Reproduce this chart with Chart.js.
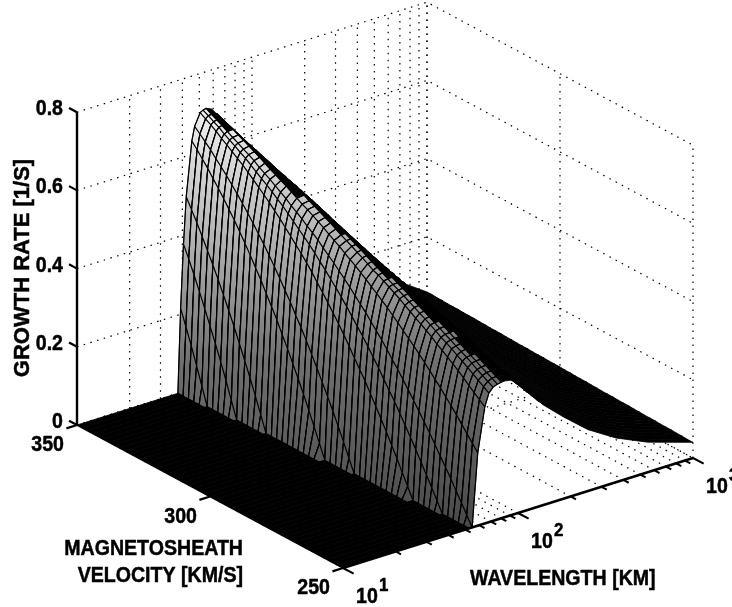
<!DOCTYPE html>
<html lang="en">
<head>
<meta charset="UTF-8">
<title>Growth rate surface</title>
<style>
  html, body { margin: 0; padding: 0; background: #fff; }
  canvas { display: block; }
</style>
<script src="https://cdn.jsdelivr.net/npm/chart.js@4"></script>
</head>
<body>
<canvas id="surface" width="732" height="607"></canvas>
<script>
// tick labels and grid positions
const growthTicks = [0, 0.2, 0.4, 0.6, 0.8];
const velocityTicks = [350, 300, 250];
const wavelengthDecades = [10, 100, 1000];
const wavelengthGrid = [10, 20, 30, 40, 50, 60, 70, 80, 90, 100, 200, 300, 400, 500, 600, 700, 800, 900, 1000];

// mesh rows, back of the plot to the front [km/s]
const velocities = [350, 348, 346, 344, 342, 340, 338, 336, 334, 332, 330, 328, 326, 324, 322, 320, 318,
  316, 314, 312, 310, 308, 306, 304, 302, 300, 298, 296, 294, 292, 290, 288, 286, 284, 282, 280, 278, 276,
  274, 272, 270, 268, 266, 264, 262, 260, 258, 256, 254, 252, 250];

// mesh columns [km]
const wavelengths = [10, 37.7, 39.1, 40.6, 42.1, 45.3, 47, 50.6, 52.5, 54.7, 58.9, 64.6, 68.2, 72.1, 76.2, 80.5,
  85.1, 91.2, 110, 138, 182, 251, 363, 550, 1000];

// growth rate in 1e-3 /s along each wavelength, one value per velocity.
// rows left off the end are zero (the flat floor in front of the ridge)
const growth10 = [];
const growth37_7 = [];
const growth39_1 = [215, 175, 134, 90, 45];
const growth40_6 = [377, 346, 312, 277, 241, 204, 166, 127, 86, 43];
const growth42_1 = [496, 470, 444, 416, 387, 358, 328, 296, 263, 229, 193, 157, 120, 81, 41];
const growth45_3 = [634, 619, 602, 586, 567, 549, 530, 510, 490, 468, 445, 422, 397, 373, 346, 320, 293, 263, 234, 203, 172, 140, 106, 71, 36];
const growth47 = [669, 657, 644, 631, 616, 602, 587, 571, 555, 538, 520, 502, 482, 463, 442, 420, 398, 374, 351, 325, 301, 275, 247, 219, 190, 161, 131, 99, 67, 33];
const growth50_6 = [700, 691, 683, 674, 663, 654, 644, 634, 624, 613, 601, 589, 577, 565, 551, 538, 523, 508, 493, 478, 462, 445, 426, 408, 389, 370, 350, 329, 307, 284, 262, 240, 215, 190, 165, 139, 112, 85, 57, 29];
const growth52_5 = [704, 697, 689, 682, 672, 664, 656, 647, 639, 629, 619, 609, 600, 590, 579, 568, 556, 544, 531, 519, 506, 492, 477, 463, 447, 432, 416, 399, 381, 363, 345, 326, 306, 286, 264, 243, 222, 199, 176, 152, 128, 103, 78, 53, 26];
const growth54_7 = [706, 698, 691, 684, 676, 668, 661, 653, 646, 638, 628, 620, 612, 603, 594, 585, 574, 565, 555, 544, 534, 523, 510, 498, 486, 473, 460, 446, 432, 417, 403, 387, 371, 355, 338, 319, 302, 283, 264, 244, 224, 204, 183, 161, 139, 117, 95, 71, 48, 24];
const growth58_9 = [700, 696, 690, 684, 677, 670, 663, 656, 649, 642, 634, 626, 619, 612, 605, 597, 589, 581, 574, 566, 558, 550, 541, 532, 524, 514, 505, 496, 486, 476, 465, 455, 444, 433, 421, 409, 396, 384, 371, 358, 344, 330, 315, 301, 285, 270, 254, 237, 220, 203, 186];
const growth64_6 = [676, 672, 667, 662, 657, 651, 646, 641, 635, 629, 624, 619, 614, 608, 602, 596, 591, 584, 577, 570, 563, 556, 548, 540, 533, 526, 518, 511, 503, 494, 489, 481, 473, 465, 457, 448, 439, 430, 422, 413, 404, 393, 384, 374, 364, 354, 343, 331, 320, 309, 298];
const growth68_2 = [658, 654, 650, 646, 642, 637, 633, 628, 623, 618, 612, 607, 602, 597, 591, 586, 581, 575, 570, 565, 559, 553, 548, 541, 534, 527, 520, 513, 505, 498, 491, 483, 476, 469, 462, 454, 447, 439, 432, 424, 416, 407, 400, 392, 383, 375, 366, 357, 348, 339, 330];
const growth72_1 = [642, 638, 634, 631, 627, 623, 619, 614, 610, 605, 600, 596, 591, 587, 582, 577, 572, 567, 561, 556, 550, 545, 539, 534, 528, 522, 516, 510, 505, 498, 491, 484, 477, 470, 463, 455, 448, 441, 434, 426, 419, 411, 404, 396, 389, 382, 374, 365, 357, 349, 342];
const growth76_2 = [621, 617, 614, 610, 606, 602, 598, 594, 590, 586, 583, 579, 575, 571, 567, 563, 558, 553, 548, 542, 537, 532, 527, 522, 517, 512, 507, 502, 497, 492, 487, 481, 475, 468, 462, 455, 448, 441, 434, 427, 420, 412, 405, 398, 391, 383, 376, 368, 361, 354, 346];
const growth80_5 = [597, 594, 591, 589, 586, 583, 580, 577, 573, 570, 567, 563, 559, 556, 552, 548, 543, 538, 532, 527, 522, 517, 512, 507, 502, 497, 492, 487, 482, 477, 472, 468, 464, 459, 455, 450, 444, 438, 432, 426, 420, 413, 405, 398, 391, 384, 377, 369, 362, 355, 348];
const growth85_1 = [572, 569, 566, 562, 559, 556, 553, 550, 548, 545, 542, 540, 537, 535, 532, 530, 526, 522, 518, 514, 510, 505, 500, 495, 489, 484, 479, 474, 469, 464, 459, 454, 449, 444, 439, 434, 429, 424, 419, 414, 409, 403, 397, 392, 386, 381, 375, 368, 361, 354, 348];
const growth91_2 = [540, 538, 536, 534, 531, 529, 527, 525, 523, 522, 520, 517, 514, 512, 509, 506, 502, 498, 495, 491, 487, 483, 480, 476, 473, 469, 465, 461, 457, 453, 449, 445, 441, 438, 434, 430, 425, 421, 416, 412, 407, 401, 395, 390, 384, 378, 372, 365, 358, 352, 345];
const growth110 = [484, 481, 477, 474, 471, 467, 464, 460, 457, 454, 450, 447, 444, 440, 437, 434, 430, 427, 424, 420, 417, 414, 410, 407, 403, 400, 397, 393, 390, 386, 383, 379, 376, 372, 369, 365, 362, 358, 355, 351, 348, 344, 341, 337, 334, 330, 327, 323, 320, 316, 313];
const growth138 = [417, 414, 411, 408, 405, 403, 400, 397, 394, 391, 388, 385, 382, 380, 377, 374, 371, 368, 365, 362, 359, 357, 354, 351, 348, 345, 342, 338, 335, 331, 328, 324, 321, 317, 314, 310, 307, 303, 300, 296, 293, 289, 286, 282, 279, 275, 272, 268, 265, 261, 258];
const growth182 = [335, 333, 331, 329, 327, 324, 322, 320, 318, 316, 314, 312, 310, 307, 305, 303, 301, 299, 297, 295, 293, 290, 288, 286, 284, 282, 279, 276, 273, 270, 267, 264, 261, 258, 256, 253, 250, 247, 244, 241, 238, 235, 232, 229, 227, 224, 221, 218, 215, 212, 209];
const growth251 = [261, 259, 257, 255, 253, 251, 249, 248, 246, 244, 242, 240, 238, 236, 234, 232, 230, 228, 226, 225, 223, 221, 219, 217, 215, 213, 211, 209, 206, 204, 202, 200, 197, 195, 193, 191, 188, 186, 184, 182, 180, 177, 175, 173, 171, 168, 166, 164, 162, 159, 157];
const growth363 = [198, 196, 195, 193, 192, 190, 188, 187, 185, 184, 182, 180, 179, 177, 176, 174, 172, 171, 169, 168, 166, 164, 163, 161, 160, 158, 156, 154, 153, 151, 149, 147, 145, 144, 142, 140, 138, 136, 135, 133, 131, 129, 127, 126, 124, 122, 120, 118, 117, 115, 113];
const growth550 = [138, 137, 136, 135, 134, 133, 132, 130, 129, 128, 127, 126, 125, 124, 123, 122, 121, 120, 119, 117, 116, 115, 114, 113, 112, 111, 110, 108, 107, 106, 104, 103, 101, 100, 99, 97, 96, 95, 93, 92, 91, 89, 88, 86, 85, 84, 82, 81, 80, 78, 77];
const growth1000 = [59, 59, 58, 58, 57, 57, 57, 56, 56, 56, 55, 55, 54, 54, 54, 53, 53, 52, 52, 52, 51, 51, 51, 50, 50, 50, 49, 49, 48, 48, 48, 47, 47, 46, 46, 46, 45, 45, 45, 44, 44, 43, 43, 43, 42, 42, 42, 41, 41, 40, 40];

const growthSeries = [growth10, growth37_7, growth39_1, growth40_6, growth42_1, growth45_3, growth47, growth50_6,
  growth52_5, growth54_7, growth58_9, growth64_6, growth68_2, growth72_1, growth76_2, growth80_5, growth85_1,
  growth91_2, growth110, growth138, growth182, growth251, growth363, growth550, growth1000];

// orthographic view of the box, gives x/y on the flat chart scales
function view(lambda, velocity, growth) {
  const across = (350 - velocity) / 100;
  const along = (Math.log10(lambda) - 1) / 2;
  return {
    x: 77 + 266 * across + 350 * along,
    y: 425 + 143 * across - 110 * along - 391 * growth
  };
}

const meshPoint = (col, row) => view(wavelengths[col], velocities[row], (growthSeries[col][row] || 0) / 1000);

function outline(from, to, row) {
  const pts = [];
  for (let c = from; c <= to; c++) pts.push(meshPoint(c, row));
  for (let c = to; c >= from; c--) pts.push(meshPoint(c, row + 1));
  return pts;
}

function wires(from, to, row) {
  const pts = [];
  for (let c = from; c <= to; c++) pts.push(meshPoint(c, row), meshPoint(c, row + 1), meshPoint(c, row));
  for (let c = to; c >= from; c--) pts.push(meshPoint(c, row + 1));
  return pts;
}

// the shading of the steep face gets darker towards the floor
function faceFill(context) {
  const { ctx, scales } = context.chart;
  const top = scales.y ? scales.y.getPixelForValue(110) : NaN;
  if (!isFinite(top)) return '#888';
  const g = ctx.createLinearGradient(0, top, 0, scales.y.getPixelForValue(530));
  g.addColorStop(0, '#f2f2f2');
  g.addColorStop(0.3, '#b4b4b4');
  g.addColorStop(0.6, '#707070');
  g.addColorStop(1, '#484848');
  return g;
}

const solid = (data, width) => ({ data, showLine: true, pointRadius: 0, borderColor: '#000', borderWidth: width, fill: false });
const dotted = data => ({ data, showLine: true, pointRadius: 0, borderColor: '#000', borderWidth: 1.2, borderDash: [1.5, 5.5], fill: false });
const patch = (data, color) => ({ data, showLine: true, pointRadius: 0, borderColor: '#000', borderWidth: 0.8, fill: 'shape', backgroundColor: color });

const layers = [];

// dotted walls and floor
growthTicks.forEach(z => {
  layers.push(dotted([view(10, 350, z), view(1000, 350, z), view(1000, 250, z)]));
});
wavelengthGrid.forEach(l => {
  layers.push(dotted([view(l, 350, 0), view(l, 350, 0.8)]));
  layers.push(dotted([view(l, 350, 0), view(l, 250, 0)]));
});
velocityTicks.forEach(v => {
  layers.push(dotted([view(1000, v, 0), view(1000, v, 0.8)]));
  layers.push(dotted([view(10, v, 0), view(1000, v, 0)]));
});

// surface, strips painted back to front
const last = wavelengths.length - 1;
for (let row = 0; row < velocities.length - 1; row++) {
  let foot = 0;
  while (!growthSeries[foot + 1][row]) foot++;
  let ridge = foot;
  for (let c = foot; c <= last; c++) {
    if ((growthSeries[c][row] || 0) > (growthSeries[ridge][row] || 0)) ridge = c;
  }
  layers.push(patch(outline(ridge, last, row), '#000'));
  layers.push(patch(outline(foot, ridge, row), faceFill));
  layers.push(solid(wires(foot, ridge, row), 1.2));
  layers.push(patch(outline(0, foot, row), '#000'));
}

// solid axes and ticks
layers.push(solid([view(10, 350, 0), view(10, 350, 0.8)], 2.4));
layers.push(solid([view(10, 350, 0), view(10, 250, 0)], 1.5));
layers.push(solid([view(10, 250, 0), view(1000, 250, 0)], 2.6));
growthTicks.forEach(z => layers.push(solid([view(10, 353, z), view(10, 350, z)], 2.2)));
velocityTicks.forEach(v => layers.push(solid([view(8.7, v, 0), view(10, v, 0)], 2.2)));
wavelengthGrid.forEach(l => {
  const outer = wavelengthDecades.includes(l) ? 246 : 248;
  layers.push(solid([view(l, outer, 0), view(l, 250, 0)], 2));
});

function text(ctx, str, x, y, align, size) {
  ctx.save();
  ctx.translate(x, y);
  ctx.scale(0.89, 1);
  ctx.font = 'bold ' + (size || 22) + 'px "Liberation Sans"';
  ctx.textAlign = align;
  ctx.textBaseline = 'alphabetic';
  ctx.fillStyle = '#000';
  ctx.strokeStyle = '#000';
  ctx.lineWidth = 0.5;
  ctx.fillText(str, 0, 0);
  ctx.strokeText(str, 0, 0);
  ctx.restore();
}

const axisLabels = {
  id: 'axisLabels',
  afterDatasetsDraw(chart) {
    const { ctx, scales: { x, y } } = chart;
    growthTicks.forEach(z => {
      const p = view(10, 350, z);
      text(ctx, String(z), x.getPixelForValue(p.x - 14), y.getPixelForValue(p.y + 3), 'right');
    });
    velocityTicks.forEach(v => {
      const p = view(10, v, 0);
      text(ctx, String(v), x.getPixelForValue(p.x - 13), y.getPixelForValue(p.y + 26), 'right');
    });
    wavelengthDecades.forEach((l, i) => {
      const p = view(l, 250, 0);
      const px = x.getPixelForValue(p.x + 24), py = y.getPixelForValue(p.y + 35);
      text(ctx, '10', px, py, 'center');
      text(ctx, String(i + 1), px + 12, py - 12, 'left', 19);
    });
    text(ctx, 'MAGNETOSHEATH', x.getPixelForValue(243), y.getPixelForValue(555), 'right');
    text(ctx, 'VELOCITY [KM/S]', x.getPixelForValue(243), y.getPixelForValue(582), 'right');
    text(ctx, 'WAVELENGTH [KM]', x.getPixelForValue(470), y.getPixelForValue(585), 'left');
    ctx.save();
    ctx.translate(x.getPixelForValue(29), y.getPixelForValue(268));
    ctx.rotate(-Math.PI / 2);
    ctx.font = 'bold 22px "Liberation Sans"';
    ctx.textAlign = 'center';
    ctx.fillStyle = '#000';
    ctx.strokeStyle = '#000';
    ctx.lineWidth = 0.5;
    ctx.fillText('GROWTH RATE [1/S]', 0, 0);
    ctx.strokeText('GROWTH RATE [1/S]', 0, 0);
    ctx.restore();
  }
};

new Chart(document.getElementById('surface'), {
  type: 'scatter',
  // chart draws the first dataset last, so flip the painter order
  data: { datasets: layers.slice().reverse() },
  options: {
    responsive: false,
    animation: false,
    events: [],
    layout: { padding: 0 },
    plugins: { legend: { display: false }, tooltip: { enabled: false }, title: { display: false } },
    scales: {
      x: { type: 'linear', min: 0, max: 732, display: false },
      y: { type: 'linear', min: 0, max: 607, reverse: true, display: false }
    }
  },
  plugins: [axisLabels]
});
</script>
</body>
</html>
